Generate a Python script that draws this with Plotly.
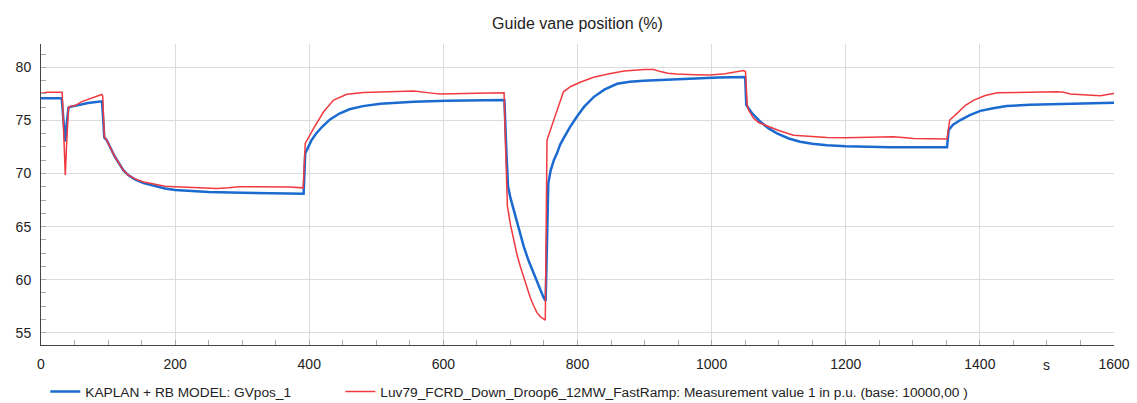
import plotly.graph_objects as go

# ---- data ----
model_t = [0, 30, 31, 33.5, 36, 38.5, 41, 45, 50, 60, 70, 80, 89.5, 91, 94.4, 98, 103, 110, 117, 123,
           130, 140, 153, 170, 185, 200, 220, 250, 300, 350, 391.6, 394, 398, 403, 410, 420, 431,
           445, 460, 480, 506, 530, 556, 605, 650, 691, 694, 696.4, 700, 705, 712, 720, 727, 735,
           742, 749.5, 752.5, 755, 756.5, 760, 765, 769.4, 774, 780, 789, 799, 810, 824, 840, 859,
           878, 898.6, 940, 973, 1010, 1050, 1051.7, 1060, 1072.6, 1085, 1097.5, 1115, 1132, 1150,
           1172, 1200, 1222, 1266, 1351, 1353.5, 1360, 1371, 1385, 1400.7, 1420, 1440, 1475, 1515,
           1560, 1600]
model_v = [77.1, 77.08, 77.0, 75.0, 73.0, 74.8, 76.2, 76.3, 76.35, 76.5, 76.65, 76.75, 76.8, 76.8,
           73.4, 73.15, 72.5, 71.6, 70.9, 70.3, 69.85, 69.45, 69.1, 68.8, 68.6, 68.45, 68.35, 68.25,
           68.18, 68.12, 68.1, 71.9, 72.5, 73.1, 73.75, 74.45, 75.1, 75.65, 76.05, 76.35, 76.58,
           76.7, 76.77, 76.86, 76.9, 76.92, 72.0, 68.8, 67.7, 66.5, 64.9, 63.1, 61.8, 60.5, 59.4,
           58.3, 58.0, 66.0, 69.1, 70.3, 71.3, 71.9, 72.7, 73.4, 74.4, 75.35, 76.3, 77.2, 77.9,
           78.45, 78.65, 78.75, 78.87, 78.96, 79.05, 79.1, 76.45, 75.7, 74.88, 74.25, 73.78, 73.3,
           73.0, 72.8, 72.66, 72.57, 72.53, 72.48, 72.47, 74.1, 74.6, 75.04, 75.5, 75.9, 76.15,
           76.35, 76.47, 76.54, 76.6, 76.67]

meas_t = [0, 3, 10, 31.6, 33, 36.2, 38, 41, 44, 51, 60, 70, 80, 90.5, 92, 94.5, 98, 103, 110, 117,
          123, 130, 140, 153, 170, 185, 200, 220, 240, 262, 280, 295, 320, 350, 370, 391, 394,
          406.5, 421.4, 436.3, 456, 481, 506, 556, 585.6, 595.5, 650, 690.5, 693, 695.5, 700, 705,
          710, 715, 722, 729.6, 735, 739.5, 745, 752, 754.5, 764.4, 772, 779, 790, 804, 824, 849,
          870, 883.7, 900, 913.5, 923.5, 935, 948, 975, 998, 1020, 1047.7, 1050.5, 1053, 1055,
          1062.7, 1070, 1082.6, 1100, 1122, 1150, 1172, 1200, 1222, 1241, 1271, 1290, 1301, 1351,
          1355, 1366, 1378, 1391, 1408, 1426, 1465, 1515, 1525, 1535, 1560, 1580, 1590, 1600]
meas_v = [77.55, 77.6, 77.65, 77.65, 75.0, 69.86, 72.5, 76.2, 76.35, 76.4, 76.75, 77.0, 77.2, 77.45,
          77.3, 73.45, 73.15, 72.5, 71.6, 70.9, 70.3, 69.85, 69.5, 69.2, 68.95, 68.8, 68.75, 68.7,
          68.62, 68.58, 68.65, 68.75, 68.75, 68.76, 68.74, 68.65, 72.84, 74.26, 75.82, 76.92,
          77.46, 77.64, 77.7, 77.77, 77.55, 77.49, 77.55, 77.61, 72.0, 66.9, 65.2, 63.7, 62.3,
          61.2, 59.8, 58.3, 57.5, 56.9, 56.5, 56.2, 73.15, 75.04, 76.5, 77.7, 78.2, 78.6, 79.06,
          79.43, 79.65, 79.75, 79.8, 79.8, 79.6, 79.45, 79.37, 79.3, 79.27, 79.4, 79.7, 79.6,
          76.5, 75.98, 75.2, 74.8, 74.47, 74.05, 73.6, 73.45, 73.4, 73.38, 73.4, 73.47, 73.47,
          73.38, 73.31, 73.25, 75.04, 75.67, 76.4, 76.92, 77.35, 77.6, 77.65, 77.7, 77.65, 77.49,
          77.4, 77.33, 77.45, 77.55]

model_name = "KAPLAN + RB MODEL: GVpos_1"
meas_name = "Luv79_FCRD_Down_Droop6_12MW_FastRamp: Measurement value 1 in p.u. (base: 10000,00 )"
title_text = "Guide vane position (%)"
x_unit = "s"

FONT = "Liberation Sans, Arial, sans-serif"

fig = go.Figure()
fig.add_trace(go.Scatter(x=model_t, y=model_v, mode="lines", name=model_name, legend="legend",
                         line=dict(color="#1a6ad0", width=2.5)))
fig.add_trace(go.Scatter(x=meas_t, y=meas_v, mode="lines", name=meas_name, legend="legend2",
                         line=dict(color="#f03a3f", width=1.5)))

leg_common = dict(orientation="h", xanchor="left", y=-0.155, yanchor="middle",
                  font=dict(size=13.7, color="#222"), bgcolor="rgba(0,0,0,0)", itemclick=False)

fig.update_layout(
    width=1137, height=403,
    margin=dict(l=41, r=23, t=44, b=58, autoexpand=False),
    paper_bgcolor="white", plot_bgcolor="white",
    font=dict(family=FONT, size=14, color="#222"),
    title=dict(text=title_text, x=0.5, xref="paper", y=1 - 23 / 403, yref="container",
               xanchor="center", yanchor="middle", font=dict(size=16, color="#222")),
    showlegend=True,
    legend=dict(x=0.004, **leg_common),
    legend2=dict(x=0.279, **leg_common),
    annotations=[dict(text=x_unit, x=0.937, xref="paper", y=-0.066, yref="paper",
                      xanchor="center", yanchor="middle", showarrow=False,
                      font=dict(size=14, color="#222"))],
)

fig.update_xaxes(range=[0, 1600], dtick=200, tick0=0, showgrid=True, gridcolor="#dcdcdc",
                 gridwidth=1, showline=True, linecolor="#444", linewidth=1, zeroline=False,
                 ticks="inside", ticklen=5, tickcolor="#aaa",
                 minor=dict(dtick=50, tick0=0, ticks="inside", ticklen=5, tickcolor="#aaa",
                            showgrid=False),
                 tickfont=dict(size=14, color="#222"), ticklabelstandoff=6)
fig.update_yaxes(range=[53.85, 82.2], dtick=5, tick0=0, showgrid=True, gridcolor="#dcdcdc",
                 gridwidth=1, showline=True, linecolor="#444", linewidth=1, zeroline=False,
                 ticks="inside", ticklen=5, tickcolor="#aaa",
                 minor=dict(dtick=1.25, tick0=0, ticks="inside", ticklen=5, tickcolor="#aaa",
                            showgrid=False),
                 tickfont=dict(size=14, color="#222"), ticklabelstandoff=6)

fig.write_html("out.html")
